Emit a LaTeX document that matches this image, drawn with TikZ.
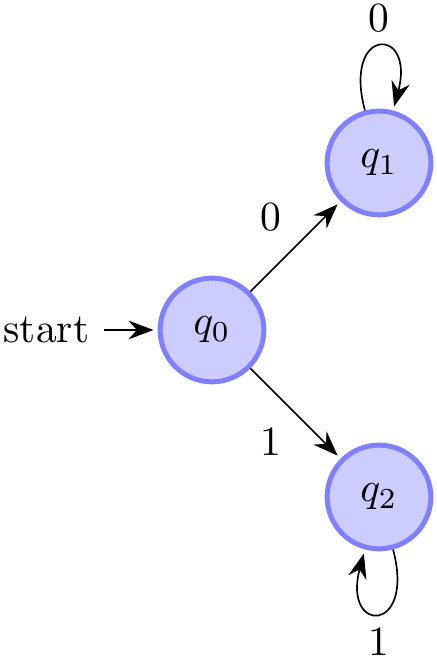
\documentclass[tikz,border=0pt]{standalone}
\usetikzlibrary{automata,positioning,arrows.meta}
\begin{document}
\begin{tikzpicture}[->,>={Stealth[length=6pt,width=4.5pt,inset=2pt]},shorten >=1pt,node distance=2cm,on grid,auto,
  every state/.style={fill=blue!20,draw=blue!50,very thick}]
  \useasboundingbox (-1.795,-2.803) rectangle (1.905,2.794);
  \node[state,initial] (q0) {$q_0$};
  \node[state] (q1) [above right=of q0] {$q_1$};
  \node[state] (q2) [below right=of q0] {$q_2$};
  \path (q0) edge node {0} (q1)
             edge node [swap] {1} (q2)
        (q1) edge [loop above] node {0} ()
        (q2) edge [loop below] node {1} ();
\end{tikzpicture}
\end{document}
